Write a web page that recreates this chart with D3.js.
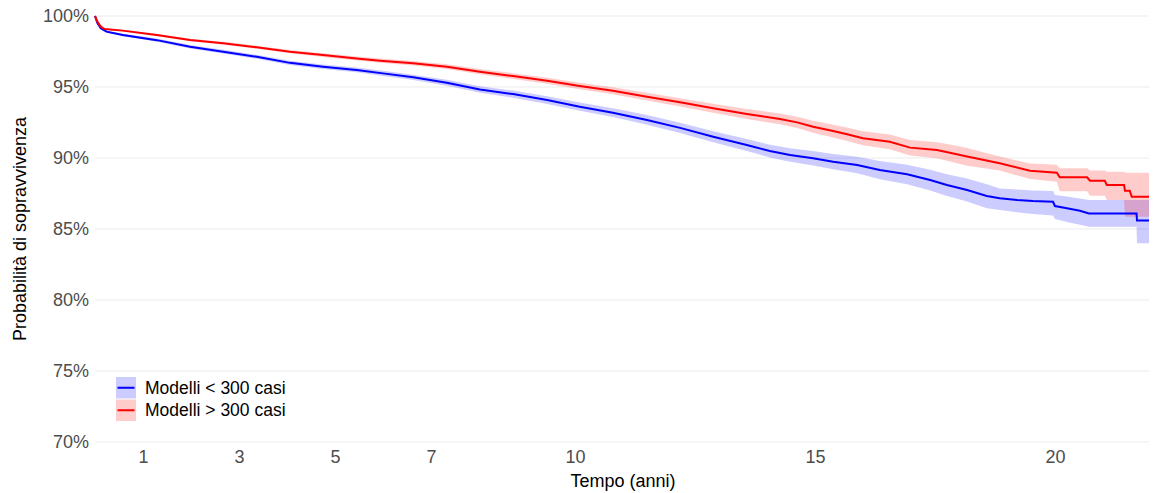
<!DOCTYPE html>
<html>
<head>
<meta charset="utf-8">
<script src="https://cdn.jsdelivr.net/npm/d3@7"></script>
<style>
  html, body { margin: 0; padding: 0; background: #ffffff; }
  svg { display: block; font-family: "Liberation Sans", Arial, sans-serif; }
</style>
</head>
<body>
<svg id="chart" width="1158" height="493"></svg>
<script>
// Kaplan-Meier survival estimates (%) with 95% confidence band, by group
const seriesNames = ["Modelli < 300 casi", "Modelli > 300 casi"];
const seriesColors = ["#0000FF", "#FF0000"];

const timeLow = [0, 0.05, 0.12, 0.24, 0.58, 1.29, 1.98, 2.67, 3.37, 4.06, 4.75, 5.45, 6.00, 6.63, 7.33, 8.02, 8.71, 9.42, 10.10, 10.79, 11.50, 12.19, 12.88, 13.58, 14.06, 14.48, 14.96, 15.38, 15.88, 16.35, 16.92, 17.40, 17.75, 18.17, 18.58, 18.85, 19.21, 19.54, 19.96, 20.00, 20.25, 20.52, 20.71, 21.70, 21.71, 21.96];
const survLow = [100, 99.50, 99.13, 98.90, 98.66, 98.30, 97.84, 97.49, 97.13, 96.70, 96.43, 96.20, 95.96, 95.68, 95.30, 94.83, 94.50, 94.08, 93.61, 93.19, 92.68, 92.12, 91.50, 90.92, 90.49, 90.21, 89.98, 89.74, 89.51, 89.15, 88.85, 88.45, 88.10, 87.75, 87.32, 87.16, 87.04, 86.97, 86.92, 86.62, 86.46, 86.29, 86.10, 86.10, 85.59, 85.59];
const lowerLow = [100, 99.45, 99.06, 98.82, 98.57, 98.19, 97.72, 97.36, 96.99, 96.55, 96.27, 96.03, 95.78, 95.49, 95.09, 94.60, 94.25, 93.81, 93.32, 92.88, 92.34, 91.76, 91.11, 90.50, 90.04, 89.73, 89.47, 89.20, 88.93, 88.50, 88.16, 87.71, 87.33, 86.93, 86.47, 86.34, 86.18, 86.05, 85.95, 85.70, 85.50, 85.30, 85.16, 85.16, 83.99, 83.99];
const upperLow = [100, 99.55, 99.20, 98.98, 98.75, 98.41, 97.96, 97.62, 97.27, 96.85, 96.59, 96.37, 96.14, 95.87, 95.51, 95.06, 94.75, 94.35, 93.90, 93.50, 93.02, 92.48, 91.89, 91.34, 90.94, 90.69, 90.49, 90.28, 90.09, 89.78, 89.52, 89.17, 88.86, 88.55, 88.16, 87.85, 87.78, 87.72, 87.68, 87.39, 87.28, 87.14, 87.04, 87.04, 87.04, 87.04];

const timeHigh = [0, 0.05, 0.12, 0.20, 0.58, 1.29, 1.98, 2.67, 3.37, 4.06, 4.75, 5.45, 5.94, 6.63, 7.33, 8.02, 8.71, 9.42, 10.10, 10.79, 11.50, 12.19, 12.88, 13.58, 14.27, 14.63, 14.96, 15.38, 15.67, 16.00, 16.56, 16.98, 17.54, 17.81, 18.17, 18.85, 19.48, 20.04, 20.10, 20.67, 20.73, 21.04, 21.08, 21.44, 21.46, 21.56, 21.60, 21.96];
const survHigh = [100, 99.60, 99.25, 99.08, 98.97, 98.66, 98.31, 98.08, 97.80, 97.49, 97.25, 97.00, 96.85, 96.67, 96.43, 96.08, 95.77, 95.44, 95.07, 94.74, 94.32, 93.92, 93.50, 93.10, 92.75, 92.51, 92.20, 91.90, 91.67, 91.39, 91.15, 90.73, 90.56, 90.37, 90.10, 89.63, 89.10, 88.96, 88.64, 88.64, 88.40, 88.40, 88.10, 88.10, 87.70, 87.70, 87.27, 87.27];
const lowerHigh = [100, 99.56, 99.20, 99.02, 98.90, 98.58, 98.22, 97.98, 97.69, 97.37, 97.12, 96.86, 96.70, 96.51, 96.26, 95.90, 95.57, 95.23, 94.84, 94.49, 94.05, 93.63, 93.18, 92.75, 92.37, 92.11, 91.78, 91.45, 91.20, 90.90, 90.62, 90.18, 89.98, 89.76, 89.45, 89.12, 88.52, 88.33, 87.65, 87.65, 87.35, 87.35, 87.04, 87.04, 85.87, 85.87, 85.87, 85.87];
const upperHigh = [100, 99.64, 99.30, 99.14, 99.04, 98.74, 98.40, 98.18, 97.91, 97.61, 97.38, 97.14, 97.00, 96.83, 96.60, 96.26, 95.97, 95.65, 95.30, 94.99, 94.59, 94.21, 93.82, 93.45, 93.13, 92.91, 92.62, 92.35, 92.14, 91.88, 91.66, 91.26, 91.11, 90.95, 90.71, 90.10, 89.62, 89.52, 89.27, 89.27, 89.12, 89.12, 89.04, 89.04, 88.96, 88.96, 88.96, 88.96];

const xTicks = [1, 3, 5, 7, 10, 15, 20];
const yTicks = [70, 75, 80, 85, 90, 95, 100];

const xLabel = "Tempo (anni)";
const yLabel = "Probabilità di sopravvivenza";

const groups = [
  { name: seriesNames[0], color: seriesColors[0], t: timeLow, s: survLow, lo: lowerLow, hi: upperLow },
  { name: seriesNames[1], color: seriesColors[1], t: timeHigh, s: survHigh, lo: lowerHigh, hi: upperHigh }
].map(g => ({ ...g, rows: g.t.map((t, i) => ({ t, s: g.s[i], lo: g.lo[i], hi: g.hi[i] })) }));

const svg = d3.select("#chart");
svg.append("rect").attr("width", 1158).attr("height", 493).attr("fill", "#ffffff");

const x = d3.scaleLinear().domain([0, 21.96]).range([95, 1149]);
const y = d3.scaleLinear().domain([70, 100]).range([442, 16]);

// horizontal grid lines
svg.append("g").selectAll("line").data(yTicks).join("line")
  .attr("x1", 95).attr("x2", 1149)
  .attr("y1", d => y(d)).attr("y2", d => y(d))
  .attr("stroke", "#EBEBEB").attr("stroke-width", 1.1);

// confidence bands
const area = d3.area().x(d => x(d.t)).y0(d => y(d.lo)).y1(d => y(d.hi)).curve(d3.curveLinear);
svg.append("g").selectAll("path").data(groups).join("path")
  .attr("d", g => area(g.rows))
  .attr("fill", g => g.color).attr("fill-opacity", 0.2);

// survival curves
const line = d3.line().x(d => x(d.t)).y(d => y(d.s)).curve(d3.curveLinear);
svg.append("g").selectAll("path").data(groups).join("path")
  .attr("d", g => line(g.rows))
  .attr("fill", "none").attr("stroke", g => g.color).attr("stroke-width", 2);

// axes
const yAxis = svg.append("g").attr("transform", "translate(95,0)")
  .call(d3.axisLeft(y).tickValues(yTicks).tickSize(0).tickPadding(6).tickFormat(d => d + "%"));
const xAxis = svg.append("g").attr("transform", "translate(0,442)")
  .call(d3.axisBottom(x).tickValues(xTicks).tickSize(0).tickPadding(8));
[xAxis, yAxis].forEach(a => {
  a.select(".domain").remove();
  a.selectAll("text").attr("fill", "#4D4D4D").style("font-size", "18px")
    .style("font-family", "'Liberation Sans', Arial, sans-serif");
});

// axis titles
svg.append("text").attr("x", 623).attr("y", 487).attr("text-anchor", "middle")
  .style("font-size", "18px").attr("fill", "#000").text(xLabel);
svg.append("text").attr("transform", "translate(26,229) rotate(-90)").attr("text-anchor", "middle")
  .style("font-size", "18px").attr("fill", "#000").text(yLabel);

// legend
const legend = svg.append("g").attr("transform", "translate(116,377)");
const item = legend.selectAll("g").data(groups).join("g")
  .attr("transform", (d, i) => `translate(0,${i * 22.5})`);
item.append("rect").attr("width", 20).attr("height", 21.5)
  .attr("fill", g => g.color).attr("fill-opacity", 0.2);
item.append("line").attr("x1", 1.5).attr("x2", 18.5).attr("y1", 10.75).attr("y2", 10.75)
  .attr("stroke", g => g.color).attr("stroke-width", 2);
item.append("text").attr("x", 29).attr("y", 10.75).attr("dy", "0.35em")
  .style("font-size", "17.5px").attr("fill", "#000").text(g => g.name);
</script>
</body>
</html>
